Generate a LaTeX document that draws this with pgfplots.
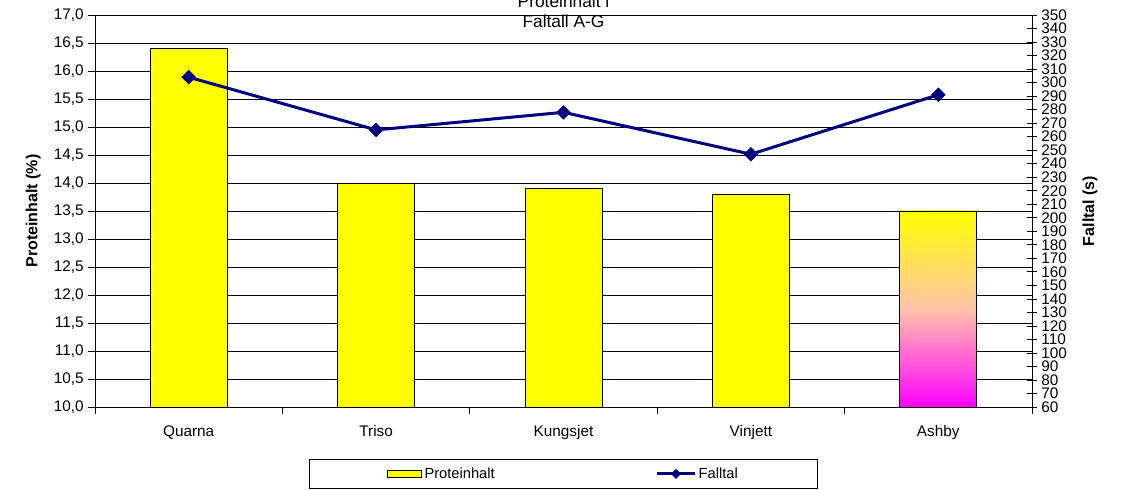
\documentclass[border=0pt]{standalone}
\usepackage{fontspec}
\setmainfont{Liberation Sans}
\usepackage{pgfplots}
\pgfplotsset{compat=1.18}
\definecolor{navyline}{RGB}{0,0,128}
\definecolor{baryellow}{RGB}{255,255,0}
\definecolor{peach}{RGB}{255,195,170}
\pgfplotsset{
  barlegend/.style={legend image code/.code={\draw[##1] (0pt,-2.5pt) rectangle (26pt,2.5pt);}},
  linelegend/.style={legend image code/.code={\draw[mark repeat=2, mark phase=2, ##1, line width=2pt, mark size=2.4pt] plot coordinates {(0pt,0pt) (14pt,0pt) (28pt,0pt)};}},
}
\begin{document}
\begin{tikzpicture}
\pgfplotsset{
  every axis/.append style={scale only axis, width=702.75pt, height=294pt,
    font=\fontsize{11.5}{13}\selectfont,
    /pgf/number format/assume math mode=true},
}
\begin{axis}[
  xmin=-0.5, xmax=4.5, ymin=10, ymax=17,
  xtick={-0.5,0.5,1.5,2.5,3.5,4.5}, xticklabels={},
  extra x ticks={0,1,2,3,4},
  extra x tick labels={Quarna,Triso,Kungsjet,Vinjett,Ashby},
  extra x tick style={major tick length=0pt, tick label style={yshift=-10.5pt}},
  ytick={10,10.5,...,17},
  ymajorgrids, grid style={black, line width=0.5pt},
  tick align=outside, xtick pos=bottom, ytick pos=left, major tick length=5pt,
  tick style={black, line width=0.5pt},
  axis line style={black, line width=0.6pt},
  yticklabel style={/pgf/number format/.cd, fixed, fixed zerofill, precision=1, use comma},
  ylabel={\bfseries Proteinhalt (\%)},
  every axis y label/.style={at={(axis description cs:-0.066,0.5)}, rotate=90, anchor=center, font=\fontsize{12}{14}\selectfont},
  title={Proteinhalt i\\Faltall A-G},
  title style={at={(axis description cs:0.5,0.988)}, anchor=center, align=center, font=\fontsize{13}{15}\selectfont},
]
\addplot[ybar, bar width=57.75pt, fill=baryellow, draw=black, line width=0.5pt] coordinates {(0,16.4) (1,14.0) (2,13.9) (3,13.8)};
\addplot[ybar, bar width=57.75pt, draw=black, line width=0.5pt, top color=yellow, bottom color=magenta, middle color=peach] coordinates {(4,13.5)};
\end{axis}
\begin{axis}[
  xmin=-0.5, xmax=4.5, ymin=60, ymax=350,
  axis y line*=right, axis x line=none,
  ytick={60,70,...,350},
  tick align=center, major tick length=7pt,
  tick style={black, line width=0.5pt},
  axis line style={black, line width=0.6pt},
  ylabel={\bfseries Falltal (s)},
  every axis y label/.style={at={(axis description cs:1.062,0.5)}, rotate=90, anchor=center, font=\fontsize{12}{14}\selectfont},
  legend columns=2,
  legend style={at={(axis description cs:0.5,-0.133)}, anchor=north, draw=black, line width=0.5pt,
    inner xsep=58pt, inner ysep=4pt, font=\fontsize{11}{13}\selectfont,
    /tikz/every even column/.append style={column sep=119pt}},
]
\addlegendimage{fill=baryellow, draw=black, line width=0.5pt, barlegend}
\addlegendentry{Proteinhalt}
\addplot[navyline, line width=2.25pt, mark=square*, mark size=3.6pt, mark options={rotate=45, solid, line width=0.5pt}, linelegend]
  coordinates {(0,304) (1,265) (2,278) (3,247) (4,291)};
\addlegendentry{Falltal}
\end{axis}
\pgfresetboundingbox
\path[use as bounding box] (-71.25pt,-61.5pt) rectangle (771.75pt,305.25pt);
\end{tikzpicture}
\end{document}
